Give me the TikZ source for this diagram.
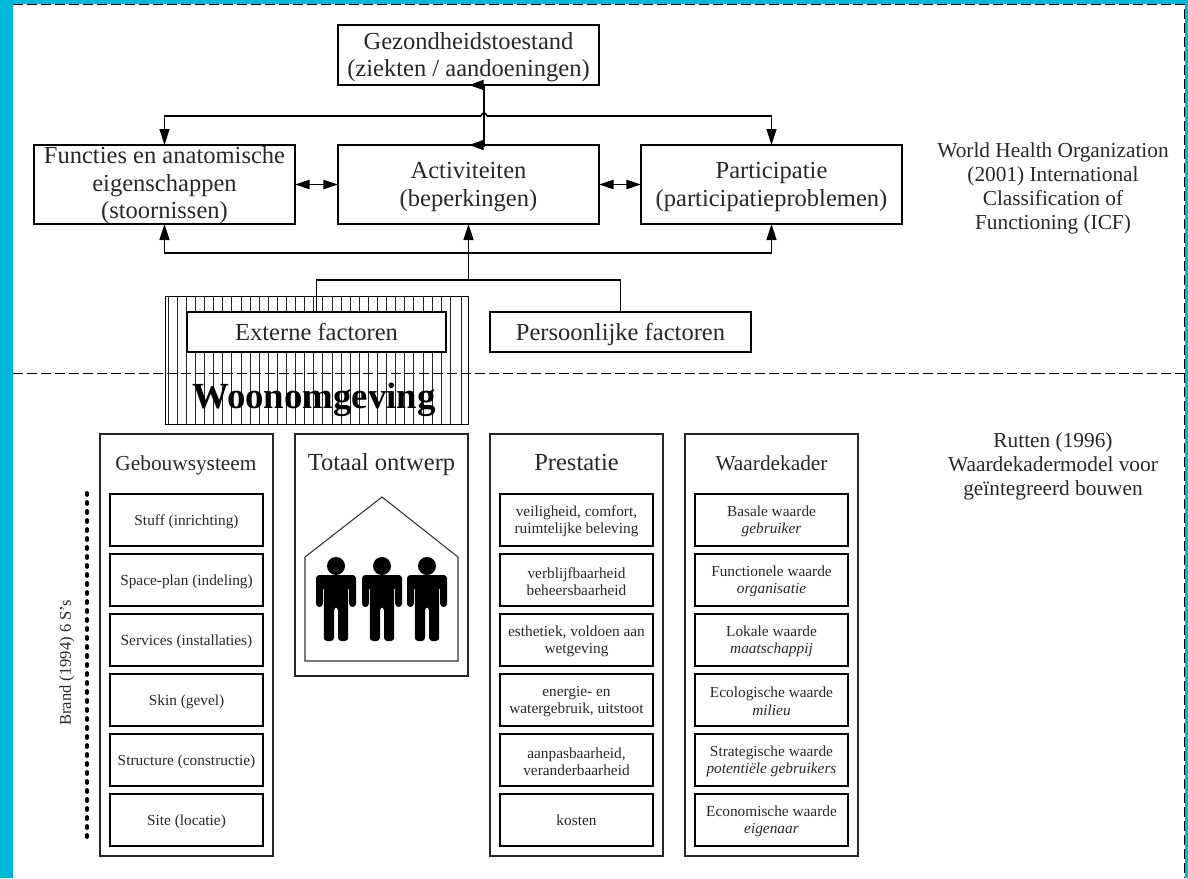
\documentclass[tikz,border=0pt]{standalone}
\usepackage{fontspec}
\setmainfont{Liberation Serif}
\usetikzlibrary{arrows.meta}
\definecolor{frame}{RGB}{0,184,217}
\definecolor{ink}{RGB}{40,40,40}
\def\px{0.75pt}
\newcommand{\T}{\rule{0pt}{0.87em}}
\newcommand{\Tb}{\rule{0pt}{0.75em}}
\tikzset{
  bigbox/.style={draw=black,line width=1.1pt,fill=white,inner sep=0pt,outer sep=0pt,align=center,text=ink,font=\fontsize{18.4}{20.6}\selectfont,minimum width=261*\px},
  panel/.style={draw=black!85,line width=1.4pt,fill=white,inner sep=0pt,outer sep=0pt,minimum width=173*\px},
  inner/.style={draw=black,line width=1.1pt,fill=white,inner sep=0pt,outer sep=0pt,align=center,text=ink,font=\fontsize{11.5}{12.9}\selectfont,minimum width=153*\px,minimum height=52*\px},
  title/.style={inner sep=0pt,text=ink,anchor=base},
  titleA/.style={title,font=\fontsize{16}{20}\selectfont},
  titleB/.style={title,font=\fontsize{18.4}{20}\selectfont},
  side/.style={inner sep=0pt,align=center,text=ink,font=\fontsize{16}{18}\selectfont},
  conn/.style={line width=1.1pt,draw=black},
  arr/.style={conn,-{Triangle[length=12pt,width=7.5pt]}},
  darr/.style={conn,{Triangle[length=11pt,width=7pt]}-{Triangle[length=11pt,width=7pt]}},
  tri/.style={conn,-{Triangle[length=11pt,width=7.5pt]}},
  dash1/.style={draw=black,line width=0.7pt,dash pattern=on 7.5pt off 3pt},
  hatchline/.style={draw=black!85,line width=0.7pt},
}
\newcommand{\persoon}[1]{%
  \begin{scope}[shift={(#1,0)}]
    \fill[black] (0,566) circle[radius=9];
    \fill[black,rounded corners=2.5pt] (-20,575) -- (20,575) -- (20,607) -- (13.2,607) -- (13.2,586) -- (12.2,586) -- (12.2,641) -- (2,641) -- (2,607) -- (-2,607) -- (-2,641) -- (-12.2,641) -- (-12.2,586) -- (-13.2,586) -- (-13.2,607) -- (-20,607) -- cycle;
  \end{scope}}
\begin{document}
\begin{tikzpicture}[x=\px,y=-\px]
\useasboundingbox (0,0) rectangle (1188,878);
% frame
\fill[frame] (0,0) rectangle (13,878);
\fill[frame] (0,0) rectangle (1188,4);
\fill[frame] (1185,0) rectangle (1188,878);
\coordinate (tl) at (13,4);
\coordinate (tr) at (1184,4);
\coordinate (br) at (1184,878);
\coordinate (ml) at (13,373);
\coordinate (mr) at (1184,373);
\draw[dash1] (tl) -- (tr) -- (br);
\draw[dash1] (ml) -- (mr);
% woonomgeving hatch
\node[draw=black,line width=0.6pt,inner sep=0pt,outer sep=0pt,minimum width=303*\px,minimum height=128*\px] (woon) at (316.5,360) {};
\draw[hatchline] (168.5,296) -- (168.5,424);
\foreach \k in {0,...,30} {\draw[hatchline] ({177.3+9.1*\k},296) -- ({177.3+9.1*\k},424);}
\draw[hatchline] (461.7,296) -- (461.7,424);
\node[inner sep=0pt,font=\fontsize{27.6}{30}\selectfont\bfseries] (woontxt) at (314,400) {Woonomgeving};
% top boxes
\node[bigbox,minimum height=60*\px] (gez) at (468.5,55) {\T Gezondheidstoestand\\(ziekten / aandoeningen)};
\node[bigbox,minimum height=79*\px] (fun) at (164.5,184.5) {\Tb Functies en anatomische\\eigenschappen\\(stoornissen)};
\node[bigbox,minimum height=79*\px] (act) at (468.5,184.5) {\T Activiteiten\\(beperkingen)};
\node[bigbox,minimum height=79*\px] (par) at (771.5,184.5) {\T Participatie\\(participatieproblemen)};
\node[bigbox,minimum width=259*\px,minimum height=40*\px] (ext) at (316.5,332) {Externe factoren};
\node[bigbox,minimum height=40*\px] (per) at (620.5,332) {\T Persoonlijke factoren};
% connectors upper
\coordinate (gj) at (484,85);
\coordinate (gjt) at (469,85);
\coordinate (aj) at (484,147);
\coordinate (ajh) at (484,145);
\coordinate (ajt) at (469,145);
\coordinate (bl) at (481,116);
\coordinate (br2) at (487,116);
\coordinate (lb) at (468.5,253);
\coordinate (jb) at (468.5,280);
\draw[conn] (gj) -- (aj);
\draw[tri] (gj) -- (gjt);
\draw[tri] (ajh) -- (ajt);
\draw[arr] (bl) -| (fun.north);
\draw[arr] (br2) -| (par.north);
\draw[conn] (bl) .. controls (482,112) and (486,112) .. (br2);
\draw[darr] (fun.east) -- (act.west);
\draw[darr] (act.east) -- (par.west);
\draw[arr] (jb) -- (act.south);
\draw[arr] (lb) -| (fun.south);
\draw[arr] (lb) -| (par.south);
\draw[conn] (ext.north) |- (jb);
\draw[conn] (per.north) |- (jb);
% side texts
\node[side] (who) at (1053,188) {World Health Organization\\(2001) International\\Classification of\\Functioning (ICF)};
\node[side] (rut) at (1053,466) {Rutten (1996)\\Waardekadermodel voor\\geïntegreerd bouwen};
% panels
\node[panel,minimum height=422*\px] (pg) at (186.5,645) {};
\node[panel,minimum height=242*\px] (pt) at (381.5,555) {};
\node[panel,minimum height=422*\px] (pp) at (576.5,645) {};
\node[panel,minimum height=422*\px] (pw) at (771.5,645) {};
\node[titleA] (tg) at (186,470.5) {Gebouwsysteem};
\node[titleB] (tt) at (381.5,470.5) {Totaal ontwerp};
\node[titleB] (tp) at (576.5,470.5) {Prestatie};
\node[titleA] (tw) at (771.5,470.5) {Waardekader};
% gebouwsysteem
\node[inner] (g1) at (186.5,520) {\T Stuff (inrichting)};
\node[inner] (g2) at (186.5,580) {\T Space-plan (indeling)};
\node[inner] (g3) at (186.5,640) {\T Services (installaties)};
\node[inner] (g4) at (186.5,700) {\T Skin (gevel)};
\node[inner] (g5) at (186.5,760) {\T Structure (constructie)};
\node[inner] (g6) at (186.5,820) {\T Site (locatie)};
% prestatie
\node[inner] (p1) at (576.5,520) {\T veiligheid, comfort,\\ruimtelijke beleving};
\node[inner] (p2) at (576.5,580) {\T verblijfbaarheid\\beheersbaarheid};
\node[inner] (p3) at (576.5,640) {\T esthetiek, voldoen aan\\wetgeving};
\node[inner] (p4) at (576.5,700) {\T energie- en\\watergebruik, uitstoot};
\node[inner] (p5) at (576.5,760) {\T aanpasbaarheid,\\veranderbaarheid};
\node[inner] (p6) at (576.5,820) {kosten};
% waardekader
\node[inner] (w1) at (771.5,520) {\T Basale waarde\\\textit{gebruiker}};
\node[inner] (w2) at (771.5,580) {\T Functionele waarde\\\textit{organisatie}};
\node[inner] (w3) at (771.5,640) {\T Lokale waarde\\\textit{maatschappij}};
\node[inner] (w4) at (771.5,700) {\T Ecologische waarde\\\textit{milieu}};
\node[inner] (w5) at (771.5,760) {\T Strategische waarde\\\textit{potentiële gebruikers}};
\node[inner] (w6) at (771.5,820) {\T Economische waarde\\\textit{eigenaar}};
% house with people
\draw[black!80,line width=0.8pt] (305,557) -- (382,497) -- (458,557) -- (458,661) -- (305,661) -- cycle;
\persoon{336}
\persoon{382}
\persoon{427}
% Brand
\coordinate (dt) at (87,493);
\coordinate (db) at (87,842);
\draw[line width=2.8pt,line cap=round,dash pattern=on 1.5pt off 5.25pt] (dt) -- (db);
\node[inner sep=0pt,rotate=90,text=ink,font=\fontsize{12.4}{14}\selectfont] (brand) at (67,663) {Brand (1994) 6 S’s};
\end{tikzpicture}
\end{document}
